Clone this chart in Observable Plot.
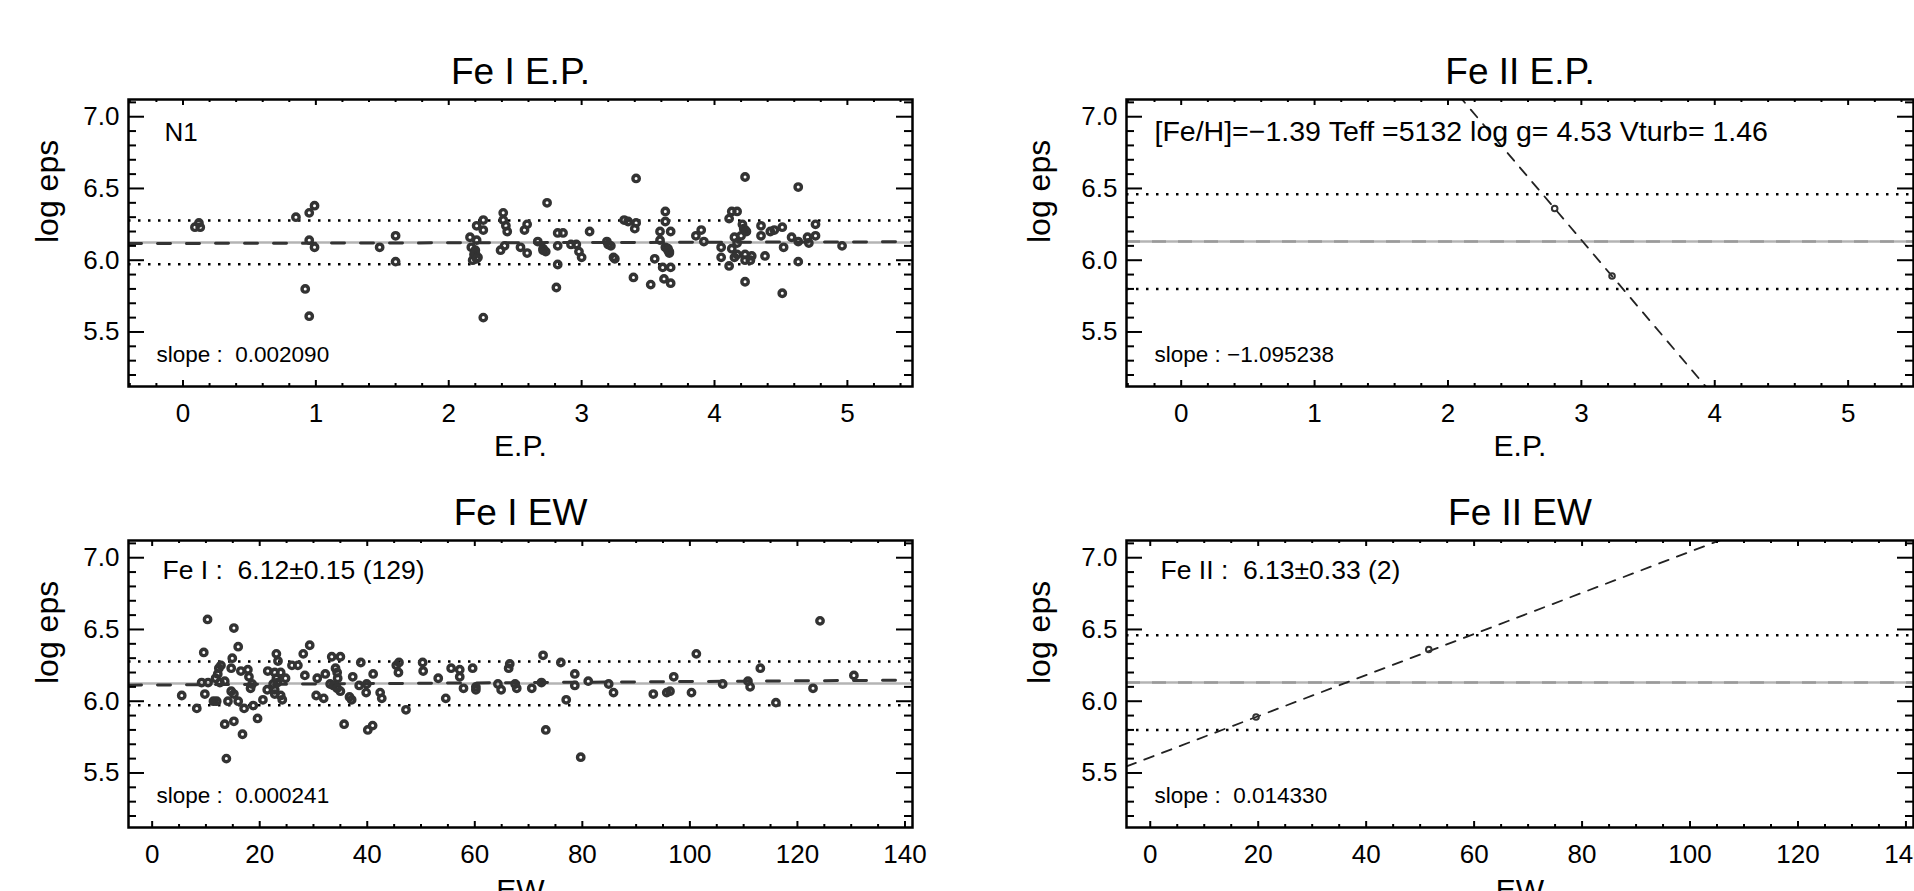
<!DOCTYPE html>
<html><head><meta charset="utf-8">
<script src="https://cdn.jsdelivr.net/npm/d3@7"></script>
<script src="https://cdn.jsdelivr.net/npm/@observablehq/plot@0.6"></script>
<style>
body{margin:0;background:#fff;}
#root{position:relative;width:1914px;height:891px;overflow:hidden;background:#fff;}
#root > div{position:absolute;}
</style></head><body><div id="root"></div>
<script>
const FONT = '"Liberation Sans", Arial, Helvetica, sans-serif';

// ---- Fe I vs excitation potential ----
const feI_ep = [0.09,0.12,0.13,0.85,0.95,0.99,0.95,0.99,0.92,0.95,1.48,1.60,1.60,
2.16,2.21,2.17,2.20,2.19,2.22,2.18,2.21,2.26,2.26,2.26,2.20,2.21,
2.41,2.41,2.43,2.44,2.42,2.39,2.54,2.59,2.57,2.59,2.74,2.67,2.71,2.73,2.71,
2.82,2.86,2.82,2.82,2.81,2.92,2.96,2.98,3.00,3.06,3.19,3.22,3.24,3.20,3.25,
3.41,3.32,3.35,3.41,3.40,3.39,3.52,3.55,3.63,3.63,3.59,3.67,3.59,3.63,3.65,3.66,3.66,3.65,3.61,3.67,3.62,3.67,
3.86,3.90,3.92,4.05,4.05,4.11,4.13,4.17,4.11,4.23,4.23,4.21,4.23,4.20,4.15,4.17,4.13,4.17,4.15,4.23,4.23,4.28,4.27,4.22,4.24,
4.35,4.35,4.38,4.42,4.45,4.51,4.58,4.52,4.63,4.63,4.63,4.51,4.70,4.71,4.76,4.76,4.96];
const feI_ep_eps = [6.23,6.26,6.23,6.30,6.33,6.38,6.14,6.09,5.80,5.61,6.09,6.17,5.99,
6.16,6.14,6.09,6.07,6.04,6.02,6.00,6.24,6.28,6.21,5.60,6.05,6.01,
6.33,6.28,6.24,6.20,6.10,6.07,6.09,6.05,6.21,6.25,6.40,6.13,6.07,6.06,6.08,
6.19,6.19,6.10,5.97,5.81,6.11,6.11,6.06,6.02,6.20,6.13,6.10,6.02,6.11,6.01,
6.57,6.28,6.27,6.26,6.22,5.88,5.83,6.01,6.34,6.27,6.20,6.20,6.14,6.09,6.08,6.05,6.06,6.07,5.95,5.95,5.87,5.84,
6.17,6.21,6.13,6.09,6.02,5.96,6.34,6.34,6.29,6.58,5.85,6.25,6.21,6.17,6.16,6.12,6.08,6.04,6.02,6.04,6.00,6.03,6.00,6.22,6.20,
6.24,6.17,6.03,6.20,6.21,6.23,6.16,6.09,6.13,5.99,6.51,5.77,6.16,6.12,6.17,6.25,6.10];

// ---- Fe I vs equivalent width ----
const feI_ew = [10.3,15.2,16.0,9.6,14.9,12.8,12.4,14.7,16.5,17.8,18.0,12.2,11.8,9.2,10.4,12.6,13.5,
5.5,9.8,8.3,11.4,12.0,14.7,15.2,14.1,16.0,17.1,18.3,18.6,18.8,19.6,13.5,15.2,16.8,13.8,
20.6,21.4,21.5,23.1,22.8,23.1,22.5,22.8,22.8,23.4,23.9,24.8,23.3,23.9,24.2,
29.3,28.1,26.0,27.1,28.4,30.7,32.2,30.5,31.9,33.4,35.0,34.1,34.4,34.5,33.1,33.7,34.4,35.0,36.7,37.1,35.7,
38.8,37.3,38.5,39.9,39.8,41.1,40.1,41.0,42.4,42.7,47.2,45.4,45.9,45.8,50.3,50.4,
53.2,54.6,55.6,57.2,57.2,57.9,59.6,60.2,60.2,64.3,64.9,66.3,66.5,67.5,67.8,70.6,72.4,72.7,73.2,
76.0,77.0,78.6,78.6,79.7,81.1,84.9,85.8,93.2,95.7,96.3,97.0,101.2,100.3,106.1,110.8,111.2,113.1,116.0,122.9,124.2,130.5];
const feI_ew_eps = [6.57,6.51,6.38,6.34,6.30,6.25,6.23,6.23,6.21,6.22,6.17,6.19,6.16,6.13,6.13,6.13,6.14,
6.04,6.05,5.95,6.00,6.00,6.07,6.05,6.00,6.00,5.95,6.09,6.12,5.97,5.88,5.84,5.86,5.77,5.60,
6.01,6.08,6.21,6.33,6.20,6.16,6.12,6.08,6.05,6.28,6.20,6.16,6.13,6.04,6.01,
6.39,6.33,6.25,6.25,6.18,6.16,6.19,6.04,6.02,6.31,6.31,6.23,6.20,6.16,6.12,6.11,6.09,6.07,6.03,6.01,5.84,
6.27,6.17,6.11,6.12,6.06,6.19,5.80,5.83,6.06,6.02,5.94,6.25,6.27,6.20,6.27,6.21,
6.16,6.02,6.23,6.22,6.17,6.09,6.23,6.10,6.08,6.12,6.08,6.23,6.26,6.12,6.09,6.09,6.13,6.32,5.80,
6.27,6.01,6.19,6.11,5.61,6.14,6.12,6.06,6.05,6.06,6.07,6.17,6.33,6.06,6.12,6.14,6.10,6.23,5.99,6.09,6.56,6.18];

// ---- Fe II (two lines: E.P., EW, abundance) ----
const feII_ep = [2.80, 3.23];
const feII_ew = [51.6, 19.6];
const feII_eps = [6.36, 5.89];

// ---- summary statistics & fits ----
const means = {feI: 6.124, feII: 6.13};
const sigmas = {feI: 0.152, feII: 0.33};
const fitSlopes = {feI_ep: 0.002090, feII_ep: -1.095238, feI_ew: 0.000241, feII_ew: 0.014330};
const fitIntercepts = {feI_ep: 6.117, feII_ep: 9.427, feI_ew: 6.113, feII_ew: 5.609};

// ---- axes ----
const yDomain = [5.12, 7.12];
const yMajor = [5.5, 6.0, 6.5, 7.0];
const yMinor = d3.range(5.2, 7.11, 0.1).filter(v => Math.abs(v*2 - Math.round(v*2)) > 1e-6);
const epDomain = [-0.41, 5.49];
const epMajor = [0, 1, 2, 3, 4, 5];
const epMinor = d3.range(-0.4, 5.45, 0.2).filter(v => Math.abs(v - Math.round(v)) > 1e-6);
const ewDomain = [-4.4, 141.4];
const ewMajor = [0, 20, 40, 60, 80, 100, 120, 140];
const ewMinor = d3.range(-0, 141, 5).filter(v => v % 20 !== 0);

const nb = s => s.replace(/ /g, "\u00a0");

function panel(cfg) {
  const {width, height, ml, mr, mt, mb} = cfg;
  const fw = width - ml - mr, fh = height - mt - mb;
  const pts = cfg.xs.map((x, i) => ({x, y: cfg.ys[i]}));
  const [d0, d1] = cfg.xDomain;
  const fit = [d0, d1].map(x => ({x, y: cfg.fitA + cfg.fitB * x}));
  const marks = [
    Plot.ruleY([cfg.mean], {stroke: "#b4b4b4", strokeWidth: 2.5}),
    ...(cfg.grayDash ? [Plot.ruleY([cfg.mean], {stroke: "#9a9a9a", strokeWidth: 2.5, strokeDasharray: "14,12"})] : []),
    Plot.ruleY([cfg.mean - cfg.sigma, cfg.mean + cfg.sigma], {stroke: "#000", strokeWidth: 2.5, strokeDasharray: "2.5,7.5"}),
    Plot.line(fit, {x: "x", y: "y", stroke: cfg.fitColor, strokeWidth: cfg.fitWidth, strokeDasharray: cfg.fitDash, clip: true}),
    Plot.dot(pts, {x: "x", y: "y", r: cfg.r, stroke: "#333", strokeWidth: cfg.sw, fill: "none"}),
    Plot.tickX(cfg.xMajor, {x: d => d, insetTop: fh - 6, strokeWidth: 2}),
    Plot.tickX(cfg.xMajor, {x: d => d, insetBottom: fh - 6, strokeWidth: 2}),
    Plot.tickX(cfg.xMinor, {x: d => d, insetTop: fh - 3, strokeWidth: 2}),
    Plot.tickX(cfg.xMinor, {x: d => d, insetBottom: fh - 3, strokeWidth: 2}),
    Plot.tickY(yMajor, {y: d => d, insetRight: fw - 16, strokeWidth: 2}),
    Plot.tickY(yMajor, {y: d => d, insetLeft: fw - 16, strokeWidth: 2}),
    Plot.tickY(yMinor, {y: d => d, insetRight: fw - 8, strokeWidth: 2}),
    Plot.tickY(yMinor, {y: d => d, insetLeft: fw - 8, strokeWidth: 2}),
    Plot.frame({stroke: "#000", strokeWidth: 2.5}),
    Plot.axisX(cfg.xMajor, {tickSize: 0, tickPadding: 17, fontSize: 26, label: null, tickFormat: d => String(d), fill: "#000"}),
    Plot.axisY(yMajor, {tickSize: 0, tickPadding: 9, fontSize: 26, label: null, tickFormat: d3.format(".1f"), fill: "#000"}),
    Plot.text([cfg.title], {frameAnchor: "top", dy: -16, lineAnchor: "bottom", fontSize: 37, fill: "#000"}),
    Plot.text([cfg.xLabel], {frameAnchor: "bottom", dy: cfg.xLabelDy, lineAnchor: "bottom", fontSize: 30, fill: "#000"}),
    Plot.text(["log eps"], {frameAnchor: "left", dx: cfg.yLabelDx, rotate: -90, lineAnchor: "bottom", fontSize: 32, fill: "#000"}),
    ...cfg.notes.map(n => Plot.text([nb(n.text)], {frameAnchor: n.anchor, dx: n.dx, dy: n.dy, lineAnchor: "bottom", textAnchor: "start", fontSize: n.size, fill: "#000"}))
  ];
  const svg = Plot.plot({
    width, height, marginLeft: ml, marginRight: mr, marginTop: mt, marginBottom: mb,
    style: {background: "transparent", overflow: "visible", maxWidth: "none", fontFamily: FONT},
    x: {domain: cfg.xDomain}, y: {domain: yDomain},
    marks
  });
  const div = document.createElement("div");
  div.style.left = cfg.left + "px";
  div.style.top = cfg.top + "px";
  div.appendChild(svg);
  document.getElementById("root").appendChild(div);
}

const topBox = {height: 470, mt: 99, mb: 84, top: 0, xLabelDy: 69};
const botBox = {height: 421, mt: 70, mb: 64, top: 470, xLabelDy: 72};
const leftBox = {left: 0, width: 957, ml: 128, mr: 45, yLabelDx: -71};
const rightBox = {left: 960, width: 954, ml: 166, mr: 1, yLabelDx: -77};

panel({...topBox, ...leftBox, title: "Fe I E.P.", xLabel: "E.P.", xs: feI_ep, ys: feI_ep_eps,
  xDomain: epDomain, xMajor: epMajor, xMinor: epMinor, mean: means.feI, sigma: sigmas.feI,
  fitA: fitIntercepts.feI_ep, fitB: fitSlopes.feI_ep, fitColor: "#333", fitWidth: 3, fitDash: "13,16",
  r: 3.2, sw: 3.4,
  notes: [{text: "N1", anchor: "top-left", dx: 36, dy: 41, size: 26},
          {text: "slope :  0.002090", anchor: "bottom-left", dx: 28, dy: -25, size: 22.5}]});

panel({...topBox, ...rightBox, title: "Fe II E.P.", xLabel: "E.P.", xs: feII_ep, ys: feII_eps,
  xDomain: epDomain, xMajor: epMajor, xMinor: epMinor, mean: means.feII, sigma: sigmas.feII,
  fitA: fitIntercepts.feII_ep, fitB: fitSlopes.feII_ep, fitColor: "#222", fitWidth: 1.8, fitDash: "10,9",
  r: 2.8, sw: 2, grayDash: true,
  notes: [{text: "[Fe/H]=\u22121.39 Teff =5132 log g= 4.53 Vturb= 1.46", anchor: "top-left", dx: 28, dy: 41, size: 28.5},
          {text: "slope : \u22121.095238", anchor: "bottom-left", dx: 28, dy: -25, size: 22.5}]});

panel({...botBox, ...leftBox, title: "Fe I EW", xLabel: "EW", xs: feI_ew, ys: feI_ew_eps,
  xDomain: ewDomain, xMajor: ewMajor, xMinor: ewMinor, mean: means.feI, sigma: sigmas.feI,
  fitA: fitIntercepts.feI_ew, fitB: fitSlopes.feI_ew, fitColor: "#333", fitWidth: 3, fitDash: "13,16",
  r: 3.2, sw: 3.4,
  notes: [{text: "Fe I :  6.12\u00b10.15 (129)", anchor: "top-left", dx: 34, dy: 38, size: 26.5},
          {text: "slope :  0.000241", anchor: "bottom-left", dx: 28, dy: -25, size: 22.5}]});

panel({...botBox, ...rightBox, title: "Fe II EW", xLabel: "EW", xs: feII_ew, ys: feII_eps,
  xDomain: ewDomain, xMajor: ewMajor, xMinor: ewMinor, mean: means.feII, sigma: sigmas.feII,
  fitA: fitIntercepts.feII_ew, fitB: fitSlopes.feII_ew, fitColor: "#222", fitWidth: 1.8, fitDash: "10,9",
  r: 2.8, sw: 2, grayDash: true,
  notes: [{text: "Fe II :  6.13\u00b10.33 (2)", anchor: "top-left", dx: 34, dy: 38, size: 26.5},
          {text: "slope :  0.014330", anchor: "bottom-left", dx: 28, dy: -25, size: 22.5}]});
</script>
</body></html>
